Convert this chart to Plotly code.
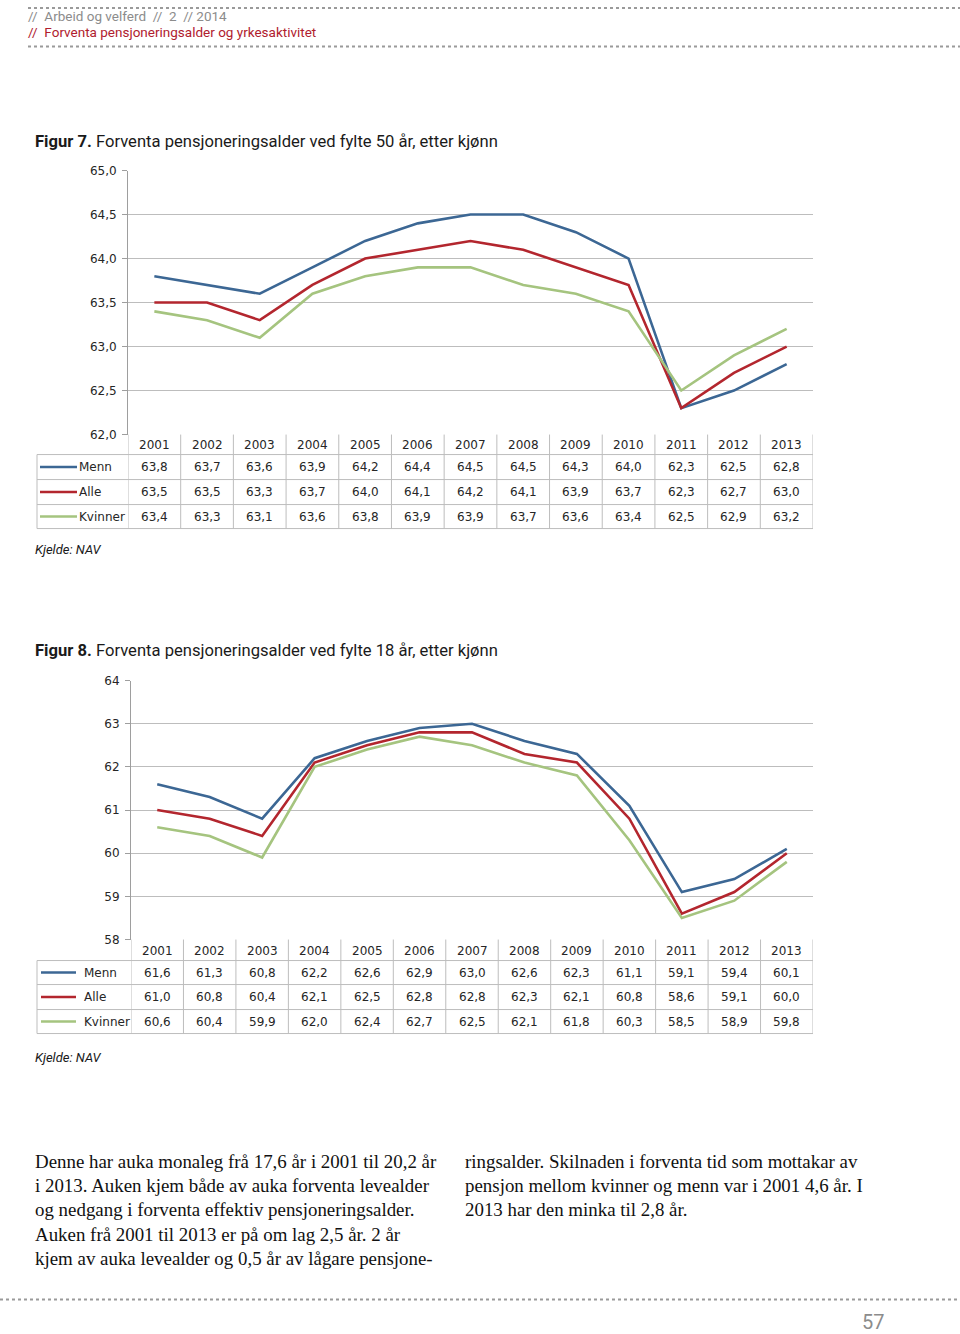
import plotly.graph_objects as go

W = 960
S = 0.9896         # observed vertical scale of the photographed page
T = 6.5            # observed page offset of the figure
FW, FH = W, 1342

years = [str(y) for y in range(2001, 2014)]
series_names = ["Menn", "Alle", "Kvinner"]
men50 = [63.8, 63.7, 63.6, 63.9, 64.2, 64.4, 64.5, 64.5, 64.3, 64.0, 62.3, 62.5, 62.8]
all50 = [63.5, 63.5, 63.3, 63.7, 64.0, 64.1, 64.2, 64.1, 63.9, 63.7, 62.3, 62.7, 63.0]
women50 = [63.4, 63.3, 63.1, 63.6, 63.8, 63.9, 63.9, 63.7, 63.6, 63.4, 62.5, 62.9, 63.2]
men18 = [61.6, 61.3, 60.8, 62.2, 62.6, 62.9, 63.0, 62.6, 62.3, 61.1, 59.1, 59.4, 60.1]
all18 = [61.0, 60.8, 60.4, 62.1, 62.5, 62.8, 62.8, 62.3, 62.1, 60.8, 58.6, 59.1, 60.0]
women18 = [60.6, 60.4, 59.9, 62.0, 62.4, 62.7, 62.5, 62.1, 61.8, 60.3, 58.5, 58.9, 59.8]

colors = ["#3C6794", "#B3262E", "#A5C47F"]
GRID = "#BDBDBD"
TXT = "#262626"
TFONT = "DejaVu Sans"
HFONT = "Roboto"


def px(x):
    return x / FW


def py(y):
    yf = max(y / S - T, 1)
    return 1 - yf / FH


fig = go.Figure()
shapes = []
annotations = []


def fmt(v):
    return f"{v:.1f}".replace(".", ",")


def text(x, y, t, size, color, family=HFONT, xanchor="left"):
    annotations.append(dict(x=px(x - 2 if xanchor == "left" else x), y=py(y), xref="paper",
                            yref="paper", xanchor=xanchor, yanchor="middle", text=t,
                            showarrow=False, font=dict(family=family, size=size, color=color)))


def add_chart(idx, data, yr, dtick, tickfmt, left, right, top, bottom, rows, tab_left,
              leg_x0, leg_x1, lab_x):
    xa = "x" if idx == 1 else "x2"
    ya = "y" if idx == 1 else "y2"
    for name, vals, col in zip(series_names, data, colors):
        fig.add_trace(go.Scatter(x=years, y=vals, mode="lines", name=name,
                                 line=dict(color=col, width=2.6), xaxis=xa, yaxis=ya,
                                 showlegend=False))
    axkey = "xaxis" if idx == 1 else "xaxis2"
    aykey = "yaxis" if idx == 1 else "yaxis2"
    fig.update_layout(**{
        axkey: dict(domain=[px(left), px(right)], anchor=ya, type="category",
                    range=[-0.5, 12.5], showticklabels=False, showgrid=False,
                    zeroline=False, showline=False, ticks=""),
        aykey: dict(domain=[py(bottom), py(top)], anchor=xa, range=yr, dtick=dtick,
                    tickformat=tickfmt, showgrid=True, gridcolor=GRID, gridwidth=1,
                    showline=True, linecolor="#9E9E9E", linewidth=1, ticks="outside",
                    ticklen=5, tickcolor="#9E9E9E", zeroline=False, ticklabelstandoff=3,
                    tickfont=dict(family=TFONT, size=12, color=TXT)),
    })
    yrow_top, r1, r2, r3, r4 = rows
    lc = dict(color=GRID, width=1)
    for yy in [r1, r2, r3, r4]:
        shapes.append(dict(type="line", xref="paper", yref="paper", x0=px(tab_left), x1=px(right),
                           y0=py(yy), y1=py(yy), line=lc))
    for i in range(len(years) + 1):
        shapes.append(dict(type="line", xref=xa, yref="paper", x0=i - 0.5, x1=i - 0.5,
                           y0=py(yrow_top), y1=py(r4), line=lc))
    shapes.append(dict(type="line", xref="paper", yref="paper", x0=px(tab_left), x1=px(tab_left),
                       y0=py(r1), y1=py(r4), line=lc))
    for i, yv in enumerate(years):
        annotations.append(dict(x=i, xref=xa, y=py((yrow_top + r1) / 2 + 0.5), yref="paper",
                                text=yv, showarrow=False, xanchor="center", yanchor="middle",
                                font=dict(family=TFONT, size=12, color=TXT)))
    bounds = [r1, r2, r3, r4]
    for k, (name, vals, col) in enumerate(zip(series_names, data, colors)):
        yc = (bounds[k] + bounds[k + 1]) / 2
        for i, v in enumerate(vals):
            annotations.append(dict(x=i, xref=xa, y=py(yc), yref="paper", text=fmt(v),
                                    showarrow=False, xanchor="center", yanchor="middle",
                                    font=dict(family=TFONT, size=12, color=TXT)))
        shapes.append(dict(type="line", xref="paper", yref="paper", x0=px(leg_x0), x1=px(leg_x1),
                           y0=py(yc), y1=py(yc), line=dict(color=col, width=2.6)))
        text(lab_x, yc, name, 12, TXT, family=TFONT)


add_chart(1, [men50, all50, women50], [62, 65], 0.5, ".1f",
          128, 813, 170, 434, [434, 454, 479, 504, 528], 37, 40, 77, 79)
add_chart(2, [men18, all18, women18], [58, 64], 1, "d",
          131, 813, 680, 939, [939, 960, 984, 1009, 1033], 37, 41, 76, 84)

# header
text(28, 15, "//  Arbeid og velferd  //  2  // 2014", 13.5, "#8C8C8C")
text(28, 31, "//  Forventa pensjoneringsalder og yrkesaktivitet", 13.5, "#B0202E")
for yy, x0 in [(3, 28), (46, 28), (1299, 0)]:
    shapes.append(dict(type="line", xref="paper", yref="paper", x0=px(x0), x1=1,
                       y0=py(yy), y1=py(yy), line=dict(color="#9A9A9A", width=2, dash="dot")))

# titles
text(35, 141, "<b>Figur 7.</b> Forventa pensjoneringsalder ved fylte 50 år, etter kjønn",
     16.6, "#1A1A1A")
text(35, 650, "<b>Figur 8.</b> Forventa pensjoneringsalder ved fylte 18 år, etter kjønn",
     16.6, "#1A1A1A")
for yy in [549, 1057]:
    text(35, yy, "<i>Kjelde: NAV</i>", 13, "#1A1A1A")

left_lines = [
    "Denne har auka monaleg frå 17,6 år i 2001 til 20,2 år",
    "i 2013. Auken kjem både av auka forventa levealder",
    "og nedgang i forventa effektiv pensjoneringsalder.",
    "Auken frå 2001 til 2013 er på om lag 2,5 år. 2 år",
    "kjem av auka levealder og 0,5 år av lågare pensjone-",
]
right_lines = [
    "ringsalder. Skilnaden i forventa tid som mottakar av",
    "pensjon mellom kvinner og menn var i 2001 4,6 år. I",
    "2013 har den minka til 2,8 år.",
]
for i, t in enumerate(left_lines):
    text(35, 1161 + 24.2 * i, t, 18.9, "#111111", family="Liberation Serif")
for i, t in enumerate(right_lines):
    text(465, 1161 + 24.2 * i, t, 18.9, "#111111", family="Liberation Serif")
text(873, 1321, "57", 20, "#8C8C8C", xanchor="center")

fig.update_layout(width=FW, height=FH, margin=dict(l=0, r=0, t=0, b=0),
                  paper_bgcolor="white", plot_bgcolor="white", separators=", ",
                  shapes=shapes, annotations=annotations, showlegend=False)

fig.write_html("out.html", config={"displayModeBar": False},
               post_script="document.body.style.margin='0';document.body.style.overflow='hidden';")
